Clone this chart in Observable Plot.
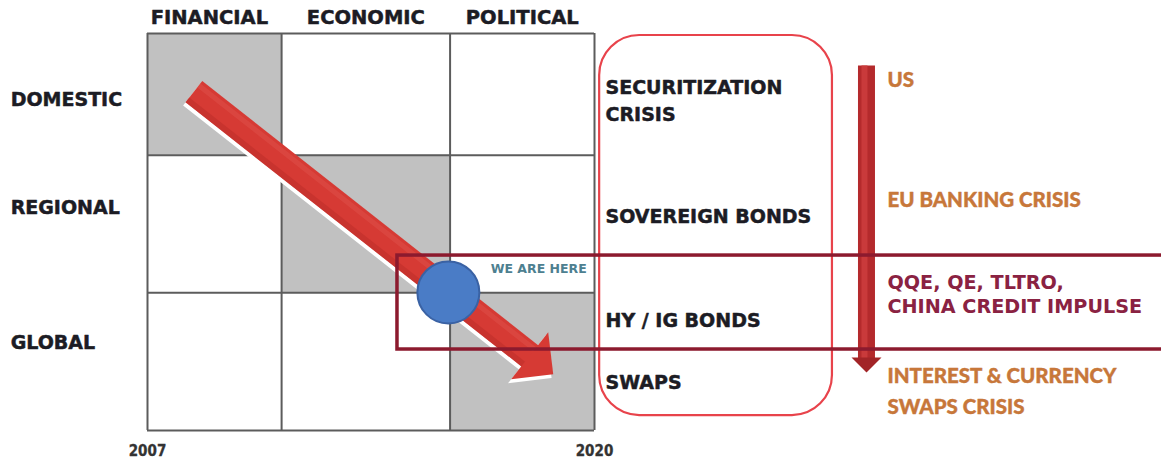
<!DOCTYPE html>
<html><head><meta charset="utf-8">
<script src="https://cdn.jsdelivr.net/npm/d3@7"></script>
<script src="https://cdn.jsdelivr.net/npm/@observablehq/plot@0.6"></script>
<style>html,body{margin:0;padding:0;background:#fff;} #chart{width:1161px;height:462px;overflow:hidden}</style>
</head><body><div id="chart"></div>
<script>
// ---------- data ----------
const columns = ["FINANCIAL", "ECONOMIC", "POLITICAL"];
const rows = ["DOMESTIC", "REGIONAL", "GLOBAL"];
const columnBreaks = [2007, 2010.9, 2015.8, 2020];      // timeline years
const rowBreaks = [0, 0.92, 1.96, 3];                   // contagion level
const yearTicks = [2007, 2020];
const highlighted = [["FINANCIAL", "DOMESTIC"], ["ECONOMIC", "REGIONAL"], ["POLITICAL", "GLOBAL"]];
const rowLabelLevels = [0.5, 1.32, 2.34];
const assetClasses = ["SECURITIZATION\nCRISIS", "SOVEREIGN BONDS", "HY / IG BONDS", "SWAPS"];
const assetLevels = [0.495, 1.368, 2.154, 2.622];
const crises = ["US", "EU BANKING CRISIS", "QQE, QE, TLTRO,\nCHINA CREDIT IMPULSE", "INTEREST & CURRENCY\nSWAPS CRISIS"];
const crisisLevels = [0.333, 1.239, 1.965, 2.683];
const crisisKinds = ["crisis", "crisis", "policy", "crisis"];
const pathStart = {year: 2008.35, level: 0.44};
const pathEnd = {year: 2018.8, level: 2.575};
const weAreHere = {year: 2015.75, level: 1.957, label: "WE ARE HERE", labelYear: 2016.98, labelLevel: 1.776};
const focusBand = {from: 2014.27, to: 2036.9, top: 1.678, bottom: 2.388};
const assetPanel = {from: 2020.15, to: 2026.92, top: 0.015, bottom: 2.887};
const escalation = {year: 2027.91, from: 0.242, to: 2.562};
const rowLabelYear = 2003.02, assetTextYear = 2020.32, crisisTextYear = 2028.52;
const headerLevel = -0.117, yearLabelLevel = 3.16;

// ---------- layout ----------
const X = {domain: [2007, 2020], range: [147, 594]};
const Y = {domain: [0, 3], range: [33, 430]};
const sx = d3.scaleLinear(X.domain, X.range), sy = d3.scaleLinear(Y.domain, Y.range);

function headSymbol(angle, lenRatio) {
  return {draw(ctx, size) {
    const r = Math.sqrt(size / Math.PI), L = r * lenRatio;
    const c = Math.cos(angle), s = Math.sin(angle);
    const pt = (px, py) => [px * c - py * s, px * s + py * c];
    const a = pt(L, 0), b = pt(0, -r), d = pt(0, r);
    ctx.moveTo(a[0], a[1]); ctx.lineTo(b[0], b[1]); ctx.lineTo(d[0], d[1]); ctx.closePath();
  }};
}
function arrowGeom(x1, y1, x2, y2, headLen) {
  const p1 = [sx(x1), sy(y1)], p2 = [sx(x2), sy(y2)];
  const dx = p2[0] - p1[0], dy = p2[1] - p1[1], len = Math.hypot(dx, dy);
  const ux = dx / len, uy = dy / len;
  const bx = p2[0] - ux * headLen, by = p2[1] - uy * headLen;
  return {
    angle: Math.atan2(dy, dx), ux, uy,
    shaft: [{x1, y1, x2: sx.invert(bx + ux), y2: sy.invert(by + uy)}],
    head: [{x: sx.invert(bx), y: sy.invert(by)}]
  };
}
const diag = arrowGeom(pathStart.year, pathStart.level, pathEnd.year, pathEnd.level, 30);
const nx = -diag.uy, ny = diag.ux; // normal towards lower-left
const vert = arrowGeom(escalation.year, escalation.from, escalation.year, escalation.to, 15);

const linkOpts = {x1: "x1", y1: "y1", x2: "x2", y2: "y2", strokeLinecap: "butt"};
const blackText = {fontFamily: "DejaVu Sans", fontWeight: "bold", fontSize: 19, fill: "#1c1c24", stroke: "#1c1c24", strokeWidth: 0.5};

const cellX = (name, k) => columnBreaks[columns.indexOf(name) + k];
const cellY = (name, k) => rowBreaks[rows.indexOf(name) + k];

const chart = Plot.plot({
  width: 1161, height: 462, margin: 0,
  x: {...X, axis: null}, y: {...Y, axis: null},
  style: {background: "#fff", overflow: "hidden"},
  marks: [
    // shaded cells
    Plot.rect(highlighted, {x1: d => cellX(d[0], 0), x2: d => cellX(d[0], 1), y1: d => cellY(d[1], 0), y2: d => cellY(d[1], 1), fill: "#c1c1c1"}),
    // grid lines
    Plot.ruleX(columnBreaks, {y1: 0, y2: 3, stroke: "#5c5c5c", strokeWidth: 2}),
    Plot.ruleY(rowBreaks, {x1: 2007, x2: 2020, stroke: "#5c5c5c", strokeWidth: 2}),
    // headers and row labels
    Plot.text(columns, {x: (d, i) => (columnBreaks[i] + columnBreaks[i + 1]) / 2 - (i === 0 ? 0.15 : 0), y: headerLevel, text: d => d, ...blackText, fontSize: 19.5}),
    Plot.text(rows, {x: rowLabelYear, y: (d, i) => rowLabelLevels[i], text: d => d, textAnchor: "start", ...blackText}),
    Plot.text(yearTicks, {x: d => d, y: yearLabelLevel, text: d => String(d), fontFamily: "DejaVu Sans Condensed, DejaVu Sans", fontWeight: "bold", fontSize: 15, fill: "#333", stroke: "#333", strokeWidth: 0.3}),
    // diagonal arrow: shadow
    Plot.link(diag.shaft, {...linkOpts, stroke: "#fff", strokeWidth: 27, dx: nx * 4, dy: ny * 4}),
    Plot.dot(diag.head, {x: "x", y: "y", r: 31, symbol: headSymbol(diag.angle, 1), fill: "#fff", dx: nx * 4, dy: ny * 4}),
    // diagonal arrow body
    Plot.link(diag.shaft, {...linkOpts, stroke: "#d63a34", strokeWidth: 27}),
    Plot.link(diag.shaft, {...linkOpts, stroke: "#c2302c", strokeWidth: 6, strokeOpacity: 0.7, dx: nx * 10.5, dy: ny * 10.5}),
    Plot.link(diag.shaft, {...linkOpts, stroke: "#e0554e", strokeWidth: 5, strokeOpacity: 0.45, dx: -nx * 8, dy: -ny * 8}),
    Plot.dot(diag.head, {x: "x", y: "y", r: 30, symbol: headSymbol(diag.angle, 1), fill: "#d63a34"}),
    // we are here
    Plot.dot([weAreHere], {x: "year", y: "level", r: 31, fill: "#4a7cc6", stroke: "#3a62a4", strokeWidth: 2}),
    Plot.text([weAreHere], {x: "labelYear", y: "labelLevel", text: "label", textAnchor: "start", fontFamily: "DejaVu Sans", fontWeight: "bold", fontSize: 12.5, fill: "#4d8090"}),
    // asset class panel
    Plot.rect([assetPanel], {x1: "from", x2: "to", y1: "top", y2: "bottom", fill: "none", stroke: "#e8434b", strokeWidth: 2.2, rx: 40}),
    Plot.text(assetClasses, {x: assetTextYear, y: (d, i) => assetLevels[i], text: d => d, textAnchor: "start", lineHeight: 1.42, ...blackText}),
    // escalation arrow
    Plot.link(vert.shaft, {...linkOpts, stroke: "#b42a2c", strokeWidth: 17}),
    Plot.link(vert.shaft, {...linkOpts, stroke: "#c93a3b", strokeWidth: 6, dx: -2}),
    Plot.dot(vert.head, {x: "x", y: "y", r: 15, symbol: headSymbol(vert.angle, 1), fill: "#a22427"}),
    // crisis labels
    Plot.text(crises.filter((d, i) => crisisKinds[i] === "crisis"), {
      x: crisisTextYear, y: d => crisisLevels[crises.indexOf(d)], text: d => d, textAnchor: "start",
      lineHeight: 1.5, fontFamily: "Lato", fontWeight: 900, fontSize: 20.5, fill: "#c7773a", stroke: "#c7773a", strokeWidth: 0.4}),
    Plot.text(crises.filter((d, i) => crisisKinds[i] === "policy"), {
      x: crisisTextYear, y: d => crisisLevels[crises.indexOf(d)], text: d => d, textAnchor: "start",
      lineHeight: 1.25, fontFamily: "DejaVu Sans", fontWeight: "bold", fontSize: 19.2, fill: "#8a2242"}),
    // focus band
    Plot.rect([focusBand], {x1: "from", x2: "to", y1: "top", y2: "bottom", fill: "none", stroke: "#8c1a2e", strokeWidth: 3.5})
  ]
});
document.getElementById("chart").append(chart);
</script></body></html>
